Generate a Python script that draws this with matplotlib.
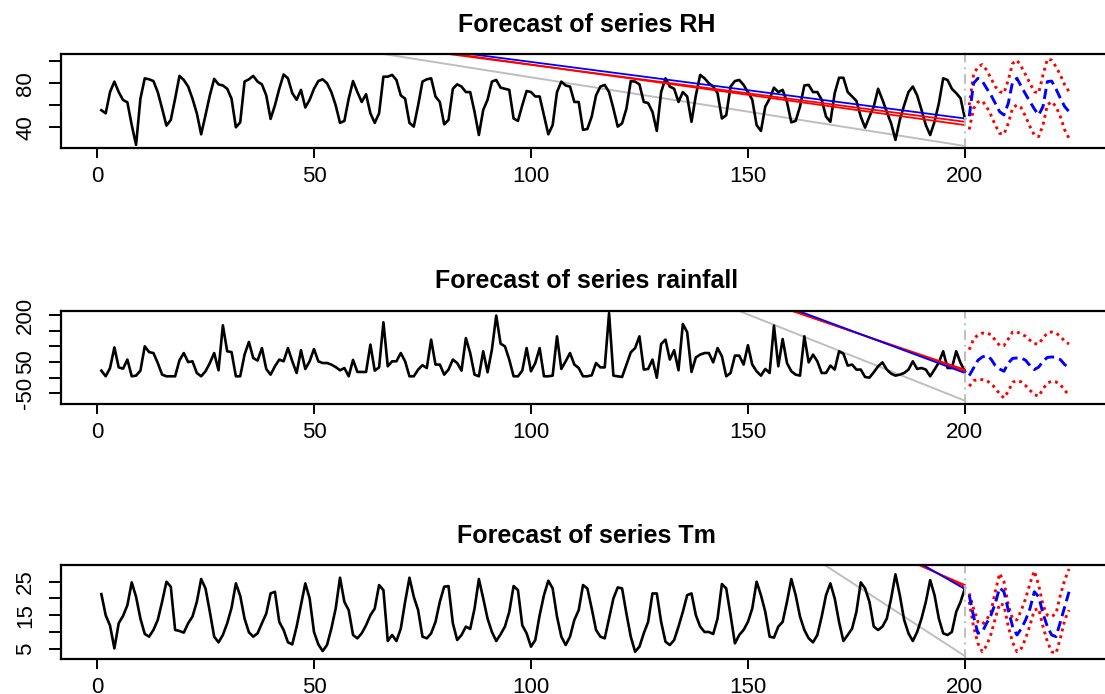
"""Forecast plots for RH, rainfall and Tm (three stacked panels)."""
import matplotlib
matplotlib.use("Agg")
import matplotlib.pyplot as plt
import numpy as np

plt.rcParams['font.family'] = ['Liberation Sans', 'DejaVu Sans']

# observed series, t = 1..200
rh = [55.5, 52.7, 72, 81.5, 72, 64.8, 62.7, 42, 24, 66,
      84.5, 83.6, 82, 72, 57, 41.5, 46.7, 66, 86.7, 83,
      77, 66, 52.7, 33.6, 51, 69, 84, 79, 78, 75,
      66, 40, 44.5, 81.5, 83.6, 86.7, 81.5, 79, 69, 47.6,
      60, 75, 88, 84.5, 71, 65, 74, 58, 65, 75,
      82, 83.6, 80, 72, 60, 44, 45.8, 66, 82, 72,
      63, 70, 52.7, 44, 52.7, 86, 86, 87.6, 83, 69,
      66, 44, 40.6, 60, 81.5, 83.6, 84.5, 68, 63, 42.7,
      46.7, 75, 79, 77, 72, 72, 54, 33, 55.8, 65,
      81.5, 83, 76, 75, 74, 48, 45.8, 60, 73, 72,
      68, 68, 51, 33.6, 42, 72, 81.5, 78, 77, 63,
      63, 37.6, 38.5, 49.7, 69, 77, 78.5, 72, 57, 40.6,
      43.6, 57, 82, 81.5, 79, 63, 62, 54, 36.7, 72,
      84.5, 77, 75, 63, 72, 68, 45, 69, 87.6, 84.5,
      80, 77, 71, 48, 51, 77, 82, 83, 78.5, 72,
      65, 42, 36.7, 58.8, 66, 76, 72, 74, 63, 44.5,
      45.8, 58.8, 78, 78.5, 72, 72, 65, 49.7, 45, 71,
      85, 85, 72, 68, 64, 49.7, 39.7, 49.7, 58.8, 75,
      65, 54, 43.6, 28.5, 46.7, 60, 72, 77, 69, 55.8,
      42, 33, 45, 61.8, 84.5, 83, 75, 71, 66.4, 48]

rainfall = [22.6, 4.5, 31, 97, 33, 29, 58, 4.5, 6.6, 22.6,
            100.6, 82, 79, 47, 9.8, 4.5, 4.5, 4.5, 55.7, 79,
            50, 52.5, 15, 4.5, 20.5, 47, 79, 23.7, 168, 84.6,
            82, 4.5, 4.5, 74, 114.5, 63, 55, 95, 28, 9.8,
            36.5, 58, 52.5, 95, 52.5, 15, 88, 28, 52.5, 92,
            52.5, 47, 47, 42, 34, 23.7, 31, 4.5, 57, 18.4,
            18.4, 18.4, 106, 22.6, 33, 177.5, 36.5, 52.5, 52.5, 79,
            52.5, 4.5, 4.5, 26, 40, 31, 122, 42, 42, 9.8,
            26, 58, 47, 22.6, 127, 79, 9.8, 4.5, 84.6, 17.3,
            90, 199, 109, 100.6, 58, 4.5, 4.5, 22.6, 95, 20.5,
            47, 95, 4.5, 4.5, 6.6, 132.6, 28, 52.5, 79, 42,
            31, 4.5, 4.5, 7.7, 47, 33, 33, 207, 6.6, 4.5,
            2.3, 42, 81, 95, 132.6, 26, 28, 58, 0, 108,
            122, 58, 88, 23.7, 172, 146, 18.4, 65, 74, 79,
            79, 49, 95, 68.6, 4.5, 15, 70.7, 70.7, 42, 104,
            42, 20.5, 6.6, 28, 15, 167, 36.5, 124, 47, 20.5,
            9.8, 6.6, 132.6, 49, 74, 52.5, 15, 15, 38.7, 26,
            84.6, 77, 38.7, 42, 26, 26, 2.3, 0, 17.3, 36.5,
            49, 26, 13, 6.6, 9.8, 15, 26, 52.5, 28, 31,
            26, 4.5, 26, 49, 84.6, 31, 31, 84.6, 47, 20.5]

tm = [21.3, 15, 11.9, 5.1, 12.6, 14.8, 18, 24.8, 20.5, 14,
      9.4, 8.6, 10.6, 13.6, 19, 25, 23.5, 10.6, 10.3, 9.8,
      12.6, 14.6, 19, 25.8, 23, 16, 8.6, 6.9, 9.1, 12.6,
      17.2, 24.5, 20.8, 14, 9.9, 8.6, 9.6, 12.6, 15.5, 21.5,
      22, 13, 10.6, 6.9, 6.3, 11.6, 18, 24.5, 20, 10,
      6.3, 4.3, 6.1, 11, 17, 26.2, 19, 16.5, 9.1, 8.1,
      9.6, 12, 15, 17, 24, 22.5, 7.3, 9.1, 7.3, 11,
      19, 26.2, 20.5, 16.5, 8.6, 8.1, 9.6, 13, 19, 23.5,
      23.7, 12.6, 7.6, 9.1, 11.6, 10.9, 17, 25.8, 20, 14,
      10, 7.3, 9.3, 11.6, 16, 23.7, 22.5, 12, 9.6, 5.6,
      7.6, 15, 21, 25.3, 23, 14.6, 8.6, 6.1, 8.6, 13.6,
      16.5, 24, 23, 17, 10.6, 8.6, 8.1, 14, 20, 23.3,
      23, 15.5, 8.6, 4.1, 5.6, 9.6, 13, 21.5, 21.5, 13,
      7.1, 6.1, 7.6, 11.6, 16, 21, 21.5, 15, 11.6, 10,
      10, 9.4, 14, 24.3, 23, 15, 6.6, 9.1, 10.6, 13,
      17, 25, 21, 16, 8.6, 8.3, 11.6, 13, 19, 25.8,
      21, 14.6, 10.6, 8.1, 6.9, 9.1, 14.6, 21, 24.5, 20,
      13, 7.3, 9.1, 11, 16, 24.8, 23, 19, 11.6, 10.6,
      11.6, 14, 20, 27.2, 21, 13.6, 9.6, 7.3, 10, 14,
      19, 25.5, 21, 14, 9.6, 9.1, 10, 16, 19, 23]

# forecasts, t = 201..224
rh_fcst = [50, 80, 84.5, 82, 75.5, 69.4, 61.8, 54.2, 51.2, 61.8,
           81.5, 84.5, 77, 70, 63.3, 56.7, 51.2, 58.8, 81.5, 82,
           74.8, 66.4, 58.8, 54.2]
rh_lower = [38, 57, 63, 64, 58.8, 51, 42, 34.5, 33.6, 43.6,
            57.6, 60.3, 57.6, 49.7, 40.6, 33, 31.5, 42, 60.3, 63.3,
            58.8, 49.7, 37.6, 30]
rh_upper = [60, 88, 95, 97, 92, 84.5, 77, 72.4, 71, 83,
            98, 101, 95, 87.6, 80, 72.4, 71, 87.6, 102, 101,
            95, 87.6, 78.5, 72.4]

rain_fcst = [6.6, 31, 55.7, 66.4, 70.7, 60, 38.7, 28, 20.5, 47,
             62, 63, 63, 55.7, 38.7, 26, 34, 52.5, 65, 66.4,
             65, 58, 42, 31]
rain_lower = [-27.6, -9.4, -6.2, -6.2, -9.4, -19, -33, -52, -65, -43.6,
              -14.7, -9.4, -13.7, -25.4, -40.4, -54, -59.6, -36, -16.9, -11.5,
              -13.7, -22.2, -40.4, -56.3]
rain_upper = [89.7, 124, 137, 143, 143, 138, 120, 103, 103, 124,
              146.5, 146.5, 140, 132.6, 120, 109, 108, 127, 143, 146.5,
              143, 132.6, 116.7, 108]

tm_fcst = [21, 14.6, 9.6, 10, 12.6, 15, 18.5, 23.2, 22, 16.5,
           11.6, 9.1, 11, 13.6, 17, 22, 20.5, 15.5, 11.6, 9.1,
           8.6, 13, 17.5, 22]
tm_lower = [19, 11.6, 6.6, 4.1, 5.9, 9.3, 14, 18.5, 18, 11.6,
            6.9, 4.1, 5.1, 8.1, 12, 16.5, 17, 11.6, 7.1, 4.1,
            3.6, 8.1, 13.6, 16.5]
tm_upper = [21.5, 17, 13, 12.3, 13.6, 16, 22, 27.5, 25, 18,
            13.9, 13.6, 16.5, 20, 24.5, 28.2, 24, 18, 15, 14.6,
            15.5, 21, 25.5, 28.8]

# straight stray segments in the original figure: value at t = 1 and at t = 200
rh_seg_start = {'grey': 147.2, 'lower': 151.4, 'upper': 148.0, 'fcst': 150.3}
rh_seg_end = {'grey': 23.0, 'lower': 42.0, 'upper': 45.0, 'fcst': 48.0}
rain_seg_start = {'grey': 1025.5, 'lower': 998.8, 'upper': 966.0, 'fcst': 1047.0}
rain_seg_end = {'grey': -73.6, 'lower': 20.5, 'upper': 25.6, 'fcst': 15.0}
tm_seg_start = {'grey': 170.3, 'lower': 152.8, 'upper': 135.8, 'fcst': 171.5}
tm_seg_end = {'grey': 2.8, 'lower': 23.4, 'upper': 24.0, 'fcst': 22.8}

x_ticks = [0, 50, 100, 150, 200]
rh_yticks = [40, 60, 80, 100]
rh_ylabels = ['40', '', '80', '']
rain_yticks = [-50, 0, 50, 100, 150, 200]
rain_ylabels = ['-50', '', '50', '', '', '200']
tm_yticks = [5, 10, 15, 20, 25]
tm_ylabels = ['5', '', '15', '', '25']

GREY = '#BEBEBE'


def plot_panel(ax, name, obs, fcst, lower, upper, seg_start, seg_end,
               ylim, yticks, ylabels):
    n = len(obs)
    t_obs = np.arange(1, n + 1)
    t_fc = np.arange(n + 1, n + len(fcst) + 1)

    # stray straight segments
    ax.plot([1, n], [seg_start['grey'], seg_end['grey']], color=GREY, lw=1.4)
    ax.plot(t_obs, obs, color='black', lw=1.9)
    for key, col in [('lower', 'red'), ('upper', 'red'), ('fcst', 'blue')]:
        ax.plot([1, n], [seg_start[key], seg_end[key]], color=col, lw=1.3)

    ax.axvline(n, color=GREY, lw=1.4, ls=(0, (5, 2.5, 1, 2.5)))

    # forecast and intervals
    ax.plot(t_fc, lower, color='red', lw=2.1, dashes=(1, 1.4))
    ax.plot(t_fc, upper, color='red', lw=2.1, dashes=(1, 1.4))
    ax.plot(t_fc, fcst, color='blue', lw=2.1, dashes=(3.5, 1.8))

    ax.set_xlim(-8.3, 233.9)
    ax.set_ylim(*ylim)
    ax.set_xticks(x_ticks)
    ax.set_xticklabels([str(v) for v in x_ticks], fontsize=16)
    ax.set_yticks(yticks)
    ax.set_yticklabels(ylabels, fontsize=16, rotation=90, va='center')
    ax.tick_params(axis='x', length=7.2, width=1.4, pad=5.5)
    ax.tick_params(axis='y', length=9, width=1.4, pad=9)
    for sp in ax.spines.values():
        sp.set_linewidth(1.6)
    ax.set_title(f"Forecast of series {name}", fontsize=18,
                 fontweight='bold', pad=16)


fig = plt.figure(figsize=(11.05, 6.94), dpi=100)
W, H = 1105.0, 694.0
left, right = 61, 1112
panels = [
    (54, 148.3, 'RH', rh, rh_fcst, rh_lower, rh_upper, rh_seg_start, rh_seg_end,
     (20.9, 106.6), rh_yticks, rh_ylabels),
    (310.7, 404.3, 'rainfall', rainfall, rain_fcst, rain_lower, rain_upper,
     rain_seg_start, rain_seg_end, (-85.3, 214.7), rain_yticks, rain_ylabels),
    (565.3, 659.3, 'Tm', tm, tm_fcst, tm_lower, tm_upper, tm_seg_start, tm_seg_end,
     (1.84, 29.9), tm_yticks, tm_ylabels),
]
for top, bottom, name, obs, fc, lo, up, s0, s1, yl, yt, ylab in panels:
    ax = fig.add_axes([left / W, 1 - bottom / H, (right - left) / W, (bottom - top) / H])
    plot_panel(ax, name, obs, fc, lo, up, s0, s1, yl, yt, ylab)

fig.savefig('out.png', dpi=100)
plt.close(fig)
